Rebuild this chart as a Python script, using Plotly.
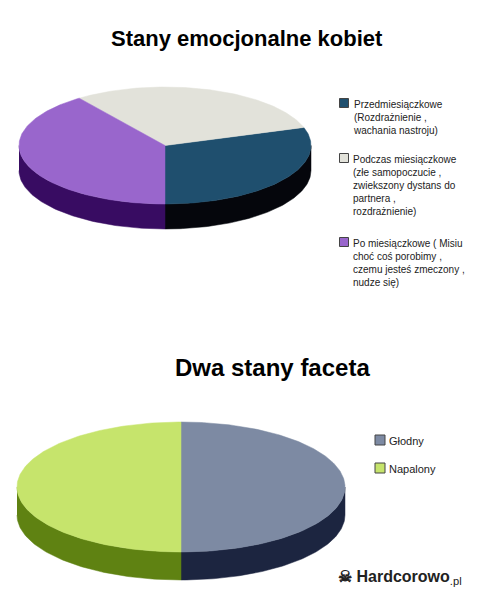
import numpy as np
import plotly.graph_objects as go

# ---- data ----
title1 = "Stany emocjonalne kobiet"
labels1 = ["Przedmiesiączkowe<br>(Rozdrażnienie ,<br>wachania nastroju)",
           "Podczas miesiączkowe<br>(złe samopoczucie ,<br>zwiekszony dystans do<br>partnera ,<br>rozdrażnienie)",
           "Po miesiączkowe ( Misiu<br>choć coś porobimy ,<br>czemu jesteś zmeczony ,<br>nudze się)"]
values1 = [30, 30, 40]
top1 = ["#1f4f6e", "#e2e2da", "#9966cc"]
side1 = ["#05060c", "#9a9a92", "#380c62"]

title2 = "Dwa stany faceta"
labels2 = ["Głodny", "Napalony"]
values2 = [50, 50]
top2 = ["#7d8aa3", "#c6e46c"]
side2 = ["#1c2540", "#5f8212"]

FONT = "Liberation Sans, Arial"
OFF = 8  # page body margin
fig = go.Figure()


def arc(cx, cy, rx, ry, a1, a2, dy=0):
    t = np.radians(np.linspace(a1, a2, max(3, int(abs(a2 - a1)) + 1)))
    return cx + rx * np.cos(t), cy - ry * np.sin(t) + dy


def add_pie(values, tops, sides, cx, cy, rx, ry, depth):
    total = sum(values)
    angs = [-90.0]
    for v in values:
        angs.append(angs[-1] + 360.0 * v / total)
    for i in range(len(values)):
        a1, a2 = angs[i], angs[i + 1]
        for lo, hi in [(-180, 0), (180, 360)]:
            b1, b2 = max(a1, lo), min(a2, hi)
            if b2 > b1:
                x, y = arc(cx, cy, rx, ry, b1, b2)
                xb, yb = arc(cx, cy, rx, ry, b2, b1, depth)
                fig.add_trace(go.Scatter(x=np.r_[x, xb], y=np.r_[y, yb], fill="toself",
                                         mode="lines", line=dict(width=0.5, color=sides[i]),
                                         fillcolor=sides[i], hoverinfo="skip", showlegend=False))
    for i in range(len(values)):
        x, y = arc(cx, cy, rx, ry, angs[i], angs[i + 1])
        fig.add_trace(go.Scatter(x=np.r_[cx, x, cx], y=np.r_[cy, y, cy], fill="toself",
                                 mode="lines", line=dict(width=0.5, color=tops[i]),
                                 fillcolor=tops[i], hoverinfo="skip", showlegend=False))


def add_legend(labels, colors, x, ys, size):
    for lab, col, y in zip(labels, colors, ys):
        fig.add_trace(go.Scatter(x=[x], y=[y], mode="markers", hoverinfo="skip", showlegend=False,
                                 marker=dict(symbol="square", size=size - 1, color=col,
                                             line=dict(color="#444", width=1))))
        fig.add_annotation(x=x + 7, y=y - size * 0.6, text=lab, showarrow=False, xanchor="left",
                           yanchor="top", align="left",
                           font=dict(family=FONT, size=size, color="#222"))


add_pie(values1, top1, side1, 165, 145.5, 146, 58.5, 25)
add_pie(values2, top2, side2, 181, 487, 164, 65, 28)

add_legend(labels1, top1, 344, [103, 158, 242], 10)
add_legend(labels2, top2, 380, [440, 468], 11)

fig.add_annotation(x=247, y=38, text="<b>" + title1 + "</b>", showarrow=False,
                   font=dict(family=FONT, size=22, color="black"))
fig.add_annotation(x=272, y=367, text="<b>" + title2 + "</b>", showarrow=False,
                   font=dict(family=FONT, size=24, color="black"))
fig.add_annotation(x=400, y=577, text="<b>☠ Hardcorowo</b><sub>.pl</sub>", showarrow=False,
                   font=dict(family=FONT, size=16, color="#222"))

fig.update_layout(width=498, height=602, margin=dict(l=0, r=0, t=0, b=0),
                  paper_bgcolor="white", plot_bgcolor="white",
                  xaxis=dict(range=[OFF, 498 + OFF], visible=False, fixedrange=True),
                  yaxis=dict(range=[602 + OFF, OFF], visible=False, fixedrange=True))
fig.write_html("out.html")
